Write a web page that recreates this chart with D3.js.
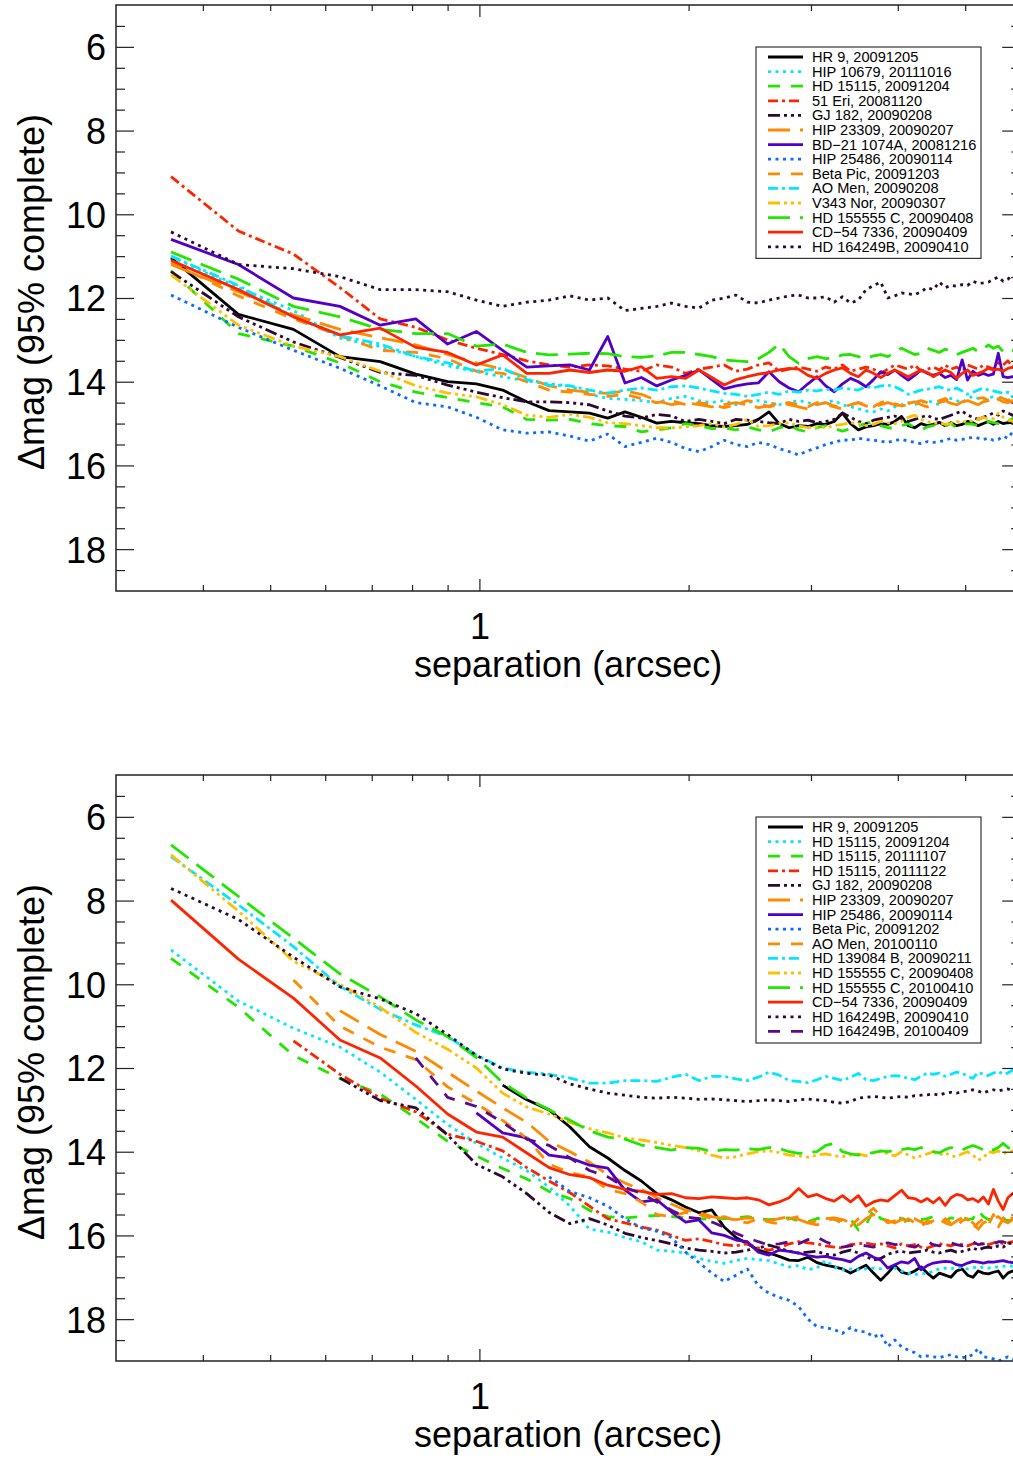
<!DOCTYPE html>
<html>
<head>
<meta charset="utf-8">
<script src="https://cdn.jsdelivr.net/npm/d3@7"></script>
<style>
  body { margin: 0; background: #fff; }
  svg { display: block; }
  text { font-family: "Liberation Sans", Arial, Helvetica, sans-serif; fill: #000; }
</style>
</head>
<body>
<svg id="chart" width="1013" height="1459"></svg>
<script>
// Separation grid (arcsec) shared by every contrast curve
const sep = [
  0.36,0.45,0.54,0.63,0.72,0.81,0.90,0.99,1.08,1.17,
  1.26,1.35,1.44,1.53,1.62,1.71,1.80,1.89,1.98,2.07,
  2.16,2.25,2.34,2.43,2.52,2.61,2.70,2.79,2.88,2.97,
  3.06,3.15,3.24,3.33,3.42,3.51,3.60,3.69,3.78,3.87,
  3.96,4.05,4.14,4.23,4.32,4.41,4.50,4.59,4.68,4.77,
  4.86,4.95,5.04,5.13,5.22,5.31,5.40,5.49,5.58,5.67,
  5.76,5.85,5.94
];

// Axis ticks
const yMajorTicks = [6, 8, 10, 12, 14, 16, 18];
const yMinorTicks = [5.5,6.5,7,7.5,8.5,9,9.5,10.5,11,11.5,12.5,13,13.5,14.5,15,15.5,16.5,17,17.5,18.5];
const xMajorTicks = [1];
const xMinorTicks = [0.4,0.5,0.6,0.7,0.8,0.9,2,3,4,5];

// ---- Upper panel: 95% completeness contrast curves (delta mag) ----
const hr9A = [
  11.04,12.39,12.75,13.40,13.52,13.82,14.00,14.05,14.20,14.48,
  14.69,14.72,14.75,14.87,14.72,14.85,14.99,14.95,14.98,15.00,
  15.05,15.07,15.05,15.02,14.90,14.72,15.00,15.10,15.05,15.07,
  15.00,15.02,14.95,14.75,15.00,15.15,15.08,15.05,15.00,15.02,
  14.95,14.83,15.05,15.10,15.00,15.05,15.02,14.97,15.05,14.98,
  15.05,15.02,14.95,14.98,15.05,15.00,14.95,15.02,14.95,15.00,
  14.98,14.97,15.00];
const hip10679 = [
  11.01,11.75,12.30,12.96,13.16,13.40,13.62,13.76,13.88,13.98,
  14.05,14.10,14.30,14.40,14.42,14.45,14.50,14.40,14.35,14.45,
  14.50,14.45,14.55,14.50,14.45,14.50,14.55,14.50,14.45,14.50,
  14.55,14.50,14.45,14.55,14.60,14.65,14.70,14.72,14.65,14.70,
  14.60,14.55,14.50,14.55,14.50,14.45,14.50,14.55,14.45,14.40,
  14.45,14.50,14.40,14.35,14.40,14.45,14.40,14.35,14.40,14.45,
  14.40,14.35,14.40];
const hd15115A = [
  11.35,12.85,13.15,13.55,14.00,14.25,14.38,14.50,14.60,14.90,
  14.92,14.90,15.00,15.05,15.07,15.20,15.15,15.10,15.00,15.05,
  15.12,15.10,15.15,15.08,15.15,15.20,15.10,15.05,15.15,15.20,
  15.10,15.05,15.12,15.18,15.12,15.05,15.00,14.95,15.05,15.10,
  15.12,15.05,15.00,15.10,15.15,15.08,15.05,15.10,15.05,15.00,
  15.10,15.05,15.00,15.02,15.05,14.95,14.95,14.98,15.00,14.92,
  14.95,14.88,14.95];
const eri51 = [
  9.10,10.40,10.95,11.75,12.50,12.70,13.00,13.20,13.35,13.50,
  13.60,13.65,13.60,13.62,13.70,13.75,13.60,13.65,13.80,13.70,
  13.65,13.60,13.75,13.70,13.60,13.55,13.75,13.70,13.65,13.70,
  13.75,13.65,13.70,13.60,13.75,13.70,13.65,13.70,13.80,13.70,
  13.60,13.65,13.70,13.60,13.75,13.70,13.65,13.72,13.60,13.70,
  13.65,13.75,13.60,13.65,13.70,13.60,13.65,13.70,13.55,13.60,
  13.50,13.65,13.60];
const gj182A = [
  11.37,12.45,13.05,13.42,13.78,13.85,14.08,14.25,14.38,14.48,
  14.48,14.50,14.55,14.70,14.82,14.87,14.78,14.82,14.95,14.90,
  14.95,15.00,14.90,14.92,14.95,14.98,15.00,14.90,14.95,14.92,
  14.98,14.95,14.90,14.75,14.85,14.95,15.00,14.92,14.88,14.85,
  14.82,14.88,14.95,14.90,14.85,14.80,14.88,14.90,14.85,14.80,
  14.75,14.70,14.80,14.85,14.90,14.85,14.80,14.75,14.80,14.70,
  14.75,14.80,14.85];
const hip23309A = [
  11.20,11.85,12.40,12.75,12.95,13.12,13.35,13.55,13.70,13.90,
  14.10,14.20,14.25,14.28,14.22,14.30,14.45,14.55,14.50,14.55,
  14.60,14.55,14.50,14.55,14.62,14.58,14.50,14.55,14.60,14.65,
  14.55,14.50,14.58,14.62,14.55,14.50,14.58,14.60,14.55,14.50,
  14.55,14.60,14.52,14.48,14.55,14.60,14.55,14.50,14.45,14.52,
  14.55,14.50,14.45,14.50,14.55,14.48,14.45,14.50,14.42,14.48,
  14.50,14.45,14.48];
const bd21 = [
  10.60,11.20,12.00,12.20,12.65,12.50,13.10,12.80,13.25,13.65,
  13.62,13.60,13.72,12.92,14.03,13.90,14.10,13.96,13.85,13.72,
  13.95,14.17,14.10,14.05,14.03,13.76,14.00,14.15,14.24,14.05,
  13.88,14.10,14.24,14.05,13.92,14.00,14.12,13.95,13.76,13.83,
  13.72,13.85,13.96,13.85,13.72,13.80,13.85,13.80,13.90,13.85,
  13.95,13.48,13.96,13.75,13.85,13.80,13.85,13.82,13.32,13.88,
  13.90,13.88,13.90];
const hip25486A = [
  11.93,12.70,13.25,13.68,14.10,14.50,14.60,14.85,15.15,15.23,
  15.20,15.30,15.42,15.25,15.55,15.45,15.35,15.45,15.60,15.67,
  15.55,15.40,15.50,15.55,15.45,15.50,15.60,15.67,15.75,15.65,
  15.58,15.50,15.45,15.39,15.40,15.35,15.38,15.40,15.42,15.45,
  15.40,15.38,15.42,15.45,15.48,15.43,15.45,15.43,15.40,15.35,
  15.40,15.38,15.35,15.33,15.35,15.38,15.35,15.40,15.38,15.30,
  15.35,15.20,15.15];
const betaPicA = [
  11.15,11.95,12.50,12.90,13.25,13.30,13.45,13.75,13.80,14.00,
  14.20,14.25,14.30,14.35,14.30,14.40,14.50,14.45,14.55,14.50,
  14.55,14.62,14.55,14.45,14.50,14.60,14.55,14.50,14.55,14.60,
  14.50,14.55,14.60,14.65,14.55,14.50,14.55,14.60,14.50,14.45,
  14.52,14.58,14.55,14.50,14.45,14.50,14.55,14.45,14.40,14.50,
  14.55,14.48,14.45,14.50,14.40,14.38,14.45,14.42,14.35,14.40,
  14.45,14.38,14.42];
const aoMenA = [
  11.00,11.70,12.45,12.90,13.10,13.40,13.55,13.75,13.68,13.95,
  14.08,14.10,14.20,14.27,14.20,14.15,14.20,14.12,14.10,14.15,
  14.22,14.28,14.30,14.35,14.30,14.25,14.30,14.22,14.25,14.20,
  14.22,14.18,14.20,14.15,14.18,14.20,14.12,14.15,14.10,14.08,
  14.12,14.20,14.30,14.25,14.20,14.18,14.15,14.12,14.18,14.20,
  14.15,14.22,14.30,14.25,14.20,14.15,14.20,14.22,14.25,14.28,
  14.25,14.26,14.27];
const v343Nor = [
  11.45,12.65,13.15,13.40,13.75,14.10,14.27,14.36,14.55,14.80,
  14.85,14.78,14.85,14.98,15.00,15.05,15.10,15.10,15.08,15.05,
  15.00,15.08,15.02,14.90,15.07,15.05,15.00,14.98,15.05,15.10,
  15.08,15.10,15.05,15.02,14.98,15.00,15.05,15.02,14.95,14.98,
  15.00,14.95,14.85,14.80,14.90,14.95,15.00,14.98,15.02,15.00,
  14.95,14.98,14.92,14.95,14.90,14.85,14.90,14.88,14.75,14.85,
  14.90,14.95,14.90];
const hd155555A = [
  10.90,11.55,12.20,12.45,12.75,12.85,12.85,13.15,13.10,13.30,
  13.36,13.34,13.32,13.33,13.40,13.42,13.38,13.30,13.30,13.35,
  13.40,13.48,13.50,13.52,13.45,13.30,13.10,13.40,13.56,13.45,
  13.40,13.45,13.43,13.36,13.35,13.40,13.45,13.38,13.35,13.40,
  13.30,13.20,13.28,13.35,13.32,13.20,13.25,13.30,13.22,13.28,
  13.35,13.30,13.25,13.20,13.28,13.22,13.12,13.20,13.15,13.28,
  13.22,13.25,13.30];
const cd54A = [
  11.10,11.80,12.45,12.88,12.72,13.18,13.30,13.60,13.36,13.80,
  13.80,13.72,13.78,13.72,13.75,13.64,13.92,13.88,13.92,13.72,
  13.90,14.08,13.95,13.88,13.82,13.78,13.72,13.68,13.70,13.85,
  13.92,13.80,13.72,13.67,13.80,13.88,13.72,13.80,13.90,13.80,
  13.72,13.80,13.88,13.80,13.72,13.78,13.88,13.80,13.72,13.78,
  13.92,13.80,13.72,13.85,13.80,13.75,13.68,13.72,13.70,13.75,
  13.68,13.65,13.64];
const hd164249A = [
  10.42,11.20,11.30,11.49,11.80,11.80,11.85,12.05,12.20,12.10,
  12.05,11.95,12.05,12.00,12.30,12.25,12.20,12.12,12.20,12.24,
  12.05,12.00,11.93,12.10,12.12,12.05,12.00,11.95,11.93,12.00,
  12.00,11.97,12.10,11.97,12.12,12.05,11.80,11.70,11.62,12.00,
  11.95,11.88,11.90,11.92,11.85,11.75,11.80,11.62,11.75,11.70,
  11.72,11.68,11.70,11.60,11.65,11.64,11.62,11.55,11.50,11.60,
  11.55,11.45,11.50];

// ---- Lower panel ----
const hr9B = [
  null,null,null,null,null,null,null,null,12.41,12.76,
  13.00,13.41,13.88,14.15,14.45,14.70,15.00,15.15,15.32,15.46,
  15.39,15.80,16.05,16.20,16.35,16.42,16.50,16.59,16.60,16.52,
  16.65,16.71,16.75,16.80,16.90,16.80,16.71,16.90,17.07,16.90,
  16.71,16.88,16.92,16.85,16.75,16.90,17.02,16.90,16.95,17.00,
  16.85,16.80,16.95,17.00,16.85,16.90,16.92,16.88,16.85,17.02,
  16.90,16.85,16.90];
const hd15115B = [
  9.18,10.40,11.05,11.50,12.10,12.75,13.35,13.80,14.15,14.45,
  14.85,15.30,15.85,15.92,16.05,16.15,16.35,16.38,16.42,16.55,
  16.62,16.67,16.60,16.55,16.58,16.60,16.68,16.75,16.72,16.82,
  16.78,16.60,16.75,16.82,16.80,16.82,16.80,16.78,16.80,16.76,
  16.78,16.85,16.90,16.94,16.90,16.92,16.85,16.80,16.78,16.80,
  16.76,16.78,16.80,16.76,16.78,16.75,16.78,16.76,16.75,16.74,
  16.72,16.74,16.72];
const hd15115C = [
  9.38,10.55,11.70,12.25,12.62,13.20,13.75,14.10,14.40,14.65,
  14.95,15.12,15.40,15.55,15.58,15.55,15.52,15.55,15.58,15.60,
  15.62,15.60,15.58,15.55,15.60,15.62,15.60,15.58,15.65,15.67,
  15.60,15.55,15.62,15.65,15.60,15.87,15.75,15.39,15.60,15.65,
  15.55,15.60,15.65,15.58,15.62,15.60,15.55,15.62,15.65,15.58,
  15.60,15.55,15.62,15.60,15.40,15.55,15.62,15.60,15.64,15.60,
  15.65,15.62,15.60];
const hd15115D = [
  null,null,11.35,12.15,12.72,13.05,13.58,13.75,13.98,14.38,
  14.70,14.98,15.30,15.60,15.70,15.80,15.87,16.00,16.12,16.08,
  16.15,16.22,16.25,16.20,16.30,16.35,16.30,16.20,16.15,16.18,
  16.20,16.25,16.28,16.30,16.22,16.20,16.18,16.22,16.20,16.25,
  16.30,16.20,16.25,16.22,16.28,16.30,16.25,16.20,16.22,16.25,
  16.20,16.22,16.25,16.20,16.18,16.20,16.22,16.18,16.15,16.20,
  16.18,16.15,16.20];
const gj182B = [
  null,null,null,12.24,12.78,12.95,13.60,14.30,14.60,15.00,
  15.45,15.72,15.60,15.75,15.95,16.05,16.12,16.20,16.30,16.35,
  16.38,16.42,16.40,16.35,16.30,16.23,16.30,16.38,16.42,16.40,
  16.38,16.45,16.47,16.40,16.35,16.42,16.50,16.59,16.55,16.45,
  16.40,16.38,16.42,16.40,16.38,16.35,16.40,16.42,16.38,16.35,
  16.40,16.38,16.35,16.30,16.35,16.30,16.28,16.30,16.25,16.28,
  16.20,16.18,16.20];
const hip23309B = [
  null,null,null,10.63,11.20,11.60,12.10,12.55,12.95,13.30,
  13.75,14.00,14.25,14.55,14.75,14.90,15.10,15.25,15.40,15.45,
  15.55,15.60,15.62,15.58,15.60,15.65,15.60,15.55,15.62,15.70,
  15.65,15.60,15.58,15.62,15.70,15.75,15.60,15.50,15.58,15.65,
  15.70,15.62,15.55,15.60,15.68,15.72,15.65,15.60,15.70,15.75,
  15.65,15.58,15.62,15.70,15.85,15.70,15.65,15.60,15.55,15.65,
  15.70,15.62,15.60];
const hip25486B = [
  null,null,null,null,null,null,null,13.07,13.55,13.67,
  14.08,14.15,14.32,14.39,14.92,15.20,15.15,15.44,15.68,15.63,
  15.94,16.00,16.11,16.15,16.40,16.47,16.35,16.38,16.42,16.48,
  16.52,16.50,16.55,16.58,16.63,16.50,16.42,16.52,16.59,16.78,
  16.70,16.63,16.66,16.55,16.82,16.72,16.66,16.64,16.62,16.63,
  16.70,16.72,16.66,16.62,16.64,16.66,16.63,16.64,16.62,16.60,
  16.63,16.65,16.60];
const betaPicB = [
  null,null,null,null,null,null,null,null,null,null,
  14.60,14.95,15.10,15.30,15.60,15.82,15.90,16.05,16.40,16.65,
  16.90,17.10,16.95,16.80,17.20,17.38,17.48,17.55,17.70,18.00,
  18.18,18.20,18.25,18.34,18.20,18.30,18.30,18.43,18.35,18.66,
  18.50,18.66,18.74,18.80,18.90,18.88,18.90,18.92,18.88,18.85,
  18.90,18.92,18.90,18.85,18.70,18.90,18.92,18.95,19.00,18.95,
  18.90,18.95,18.98];
const aoMenB = [
  null,null,9.90,11.00,11.50,11.80,12.45,12.85,13.25,13.68,
  14.30,14.50,14.60,14.90,15.00,15.20,15.50,15.55,15.45,15.50,
  15.60,15.55,15.65,15.70,15.60,15.68,15.72,15.60,15.55,15.70,
  15.75,15.65,15.60,15.72,15.78,15.60,15.50,15.35,15.55,15.70,
  15.65,15.75,15.60,15.70,15.80,15.65,15.70,15.75,15.60,15.70,
  15.78,15.65,15.60,15.85,15.70,15.60,15.75,15.50,15.80,15.60,
  15.45,15.60,15.55];
const hd139084 = [
  6.95,8.10,9.10,10.05,10.60,10.97,11.25,11.69,12.00,12.10,
  12.15,12.24,12.36,12.36,12.30,12.30,12.32,12.22,12.15,12.30,
  12.20,12.20,12.26,12.30,12.22,12.10,12.17,12.30,12.32,12.35,
  12.28,12.20,12.25,12.30,12.22,12.13,12.28,12.30,12.25,12.20,
  12.18,12.20,12.25,12.28,12.20,12.12,12.15,12.12,12.20,12.15,
  12.10,12.12,12.20,12.25,12.10,12.15,12.18,12.12,12.08,12.15,
  12.12,12.05,12.10];
const hd155555B = [
  6.91,8.25,9.45,10.00,10.55,11.15,11.55,12.00,12.60,12.93,
  13.10,13.30,13.45,13.55,13.67,13.72,13.78,13.85,13.90,13.98,
  14.08,14.15,14.12,14.05,14.00,13.98,14.02,14.08,14.10,14.13,
  14.08,14.05,14.10,14.12,14.08,14.05,14.10,14.02,14.00,14.05,
  14.10,14.00,14.08,14.15,14.10,14.05,14.00,14.08,14.02,14.10,
  14.12,14.05,14.00,14.08,14.20,14.15,14.00,14.02,13.98,14.05,
  14.00,13.98,14.00];
const hd155555C = [
  6.67,7.90,8.90,9.75,10.30,10.85,11.25,11.75,12.35,12.72,
  13.00,13.25,13.50,13.65,13.70,13.84,13.90,13.96,13.90,13.92,
  14.00,13.95,13.96,13.93,13.95,13.90,13.92,14.00,14.04,14.02,
  14.00,13.85,13.80,14.00,14.05,14.08,14.05,14.02,13.98,14.00,
  13.96,13.95,13.92,13.95,13.90,13.95,14.00,14.03,13.95,13.90,
  13.92,13.96,13.90,13.85,13.90,13.95,13.90,13.96,13.90,13.80,
  13.90,13.95,13.90];
const cd54B = [
  7.99,9.40,10.33,11.33,11.76,12.43,13.10,13.53,13.65,14.03,
  14.38,14.55,14.62,14.80,14.90,14.95,15.02,15.00,15.10,15.12,
  15.08,15.10,15.12,15.10,15.15,15.27,15.20,15.10,14.88,15.08,
  15.02,15.12,15.18,15.05,15.20,15.05,15.30,15.20,15.15,15.18,
  15.05,14.92,15.10,15.12,15.20,15.12,15.22,15.10,15.28,15.10,
  15.02,15.05,15.15,15.12,15.20,15.08,15.25,14.90,15.18,15.38,
  15.10,15.00,15.10];
const hd164249B = [
  7.71,8.45,9.35,10.06,10.35,10.70,11.20,11.70,12.02,12.13,
  12.17,12.38,12.50,12.60,12.65,12.70,12.72,12.70,12.72,12.75,
  12.74,12.76,12.78,12.80,12.78,12.76,12.78,12.80,12.76,12.74,
  12.76,12.78,12.82,12.84,12.80,12.72,12.70,12.68,12.70,12.72,
  12.70,12.68,12.70,12.66,12.65,12.64,12.62,12.65,12.60,12.58,
  12.60,12.57,12.55,12.52,12.55,12.60,12.55,12.52,12.55,12.52,
  12.50,12.55,12.52];
const hd164249C = [
  null,null,null,null,null,11.76,12.70,12.92,13.30,13.70,
  13.85,14.15,14.45,14.60,14.85,15.00,15.20,15.40,15.56,15.60,
  15.68,15.80,15.95,16.06,16.15,16.23,16.20,16.15,16.20,16.10,
  16.04,16.15,16.23,16.28,16.25,16.22,16.25,16.28,16.20,16.18,
  16.22,16.20,16.25,16.28,16.20,16.15,16.22,16.25,16.20,16.18,
  16.22,16.25,16.20,16.15,16.22,16.20,16.18,16.22,16.15,16.15,
  16.20,16.25,16.20];

// Line styles (dash patterns) and colours
const DASH = {
  solid: null,
  dot: "3,4.5",
  dash: "12,11",
  dashdot: "10,4,3,4",
  dash3dot: "12,4,3,4,3,4,3,4",
  longdash: "22,10"
};
const C = {
  black: "#000000", cyan: "#00e8ff", green: "#22e600", red: "#ff2400",
  dark: "#2c0a30", orange: "#ff8a00", violet: "#5200c8", blue: "#0a6cff",
  gold: "#ffbf00", purple: "#5a0a8a"
};
const LINE_W = 2.8;

const upperSeries = [
  { name: "HR 9, 20091205",          values: hr9A,      color: C.black,  dash: DASH.solid },
  { name: "HIP 10679, 20111016",     values: hip10679,  color: C.cyan,   dash: DASH.dot },
  { name: "HD 15115, 20091204",      values: hd15115A,  color: C.green,  dash: DASH.dash },
  { name: "51 Eri, 20081120",        values: eri51,     color: C.red,    dash: DASH.dashdot },
  { name: "GJ 182, 20090208",        values: gj182A,    color: C.dark,   dash: DASH.dash3dot },
  { name: "HIP 23309, 20090207",     values: hip23309A, color: C.orange, dash: DASH.longdash },
  { name: "BD\u221221 1074A, 20081216", values: bd21,   color: C.violet, dash: DASH.solid },
  { name: "HIP 25486, 20090114",     values: hip25486A, color: C.blue,   dash: DASH.dot },
  { name: "Beta Pic, 20091203",      values: betaPicA,  color: C.orange, dash: DASH.dash },
  { name: "AO Men, 20090208",        values: aoMenA,    color: C.cyan,   dash: DASH.dashdot },
  { name: "V343 Nor, 20090307",      values: v343Nor,   color: C.gold,   dash: DASH.dash3dot },
  { name: "HD 155555 C, 20090408",   values: hd155555A, color: C.green,  dash: DASH.longdash },
  { name: "CD\u221254 7336, 20090409", values: cd54A,   color: C.red,    dash: DASH.solid },
  { name: "HD 164249B, 20090410",    values: hd164249A, color: C.dark,   dash: DASH.dot }
];

const lowerSeries = [
  { name: "HR 9, 20091205",          values: hr9B,      color: C.black,  dash: DASH.solid },
  { name: "HD 15115, 20091204",      values: hd15115B,  color: C.cyan,   dash: DASH.dot },
  { name: "HD 15115, 20111107",      values: hd15115C,  color: C.green,  dash: DASH.dash },
  { name: "HD 15115, 20111122",      values: hd15115D,  color: C.red,    dash: DASH.dashdot },
  { name: "GJ 182, 20090208",        values: gj182B,    color: C.dark,   dash: DASH.dash3dot },
  { name: "HIP 23309, 20090207",     values: hip23309B, color: C.orange, dash: DASH.longdash },
  { name: "HIP 25486, 20090114",     values: hip25486B, color: C.violet, dash: DASH.solid },
  { name: "Beta Pic, 20091202",      values: betaPicB,  color: C.blue,   dash: DASH.dot },
  { name: "AO Men, 20100110",        values: aoMenB,    color: C.orange, dash: DASH.dash },
  { name: "HD 139084 B, 20090211",   values: hd139084,  color: C.cyan,   dash: DASH.dashdot },
  { name: "HD 155555 C, 20090408",   values: hd155555B, color: C.gold,   dash: DASH.dash3dot },
  { name: "HD 155555 C, 20100410",   values: hd155555C, color: C.green,  dash: DASH.longdash },
  { name: "CD\u221254 7336, 20090409", values: cd54B,   color: C.red,    dash: DASH.solid },
  { name: "HD 164249B, 20090410",    values: hd164249B, color: C.dark,   dash: DASH.dot },
  { name: "HD 164249B, 20100409",    values: hd164249C, color: C.purple, dash: DASH.dash }
];

const svg = d3.select("#chart");
const left = 116, right = 1020.2, plotH = 586;
const x = d3.scaleLog().domain([0.3, 6]).range([left, right]);

function drawPanel(top, series, idx) {
  const y = d3.scaleLinear().domain([5, 19]).range([top, top + plotH]);
  const g = svg.append("g");

  const clipId = "clip" + idx;
  svg.append("clipPath").attr("id", clipId)
    .append("rect").attr("x", left).attr("y", top)
    .attr("width", right - left).attr("height", plotH);

  // curves
  const line = d3.line()
    .defined(d => d[1] != null)
    .x(d => x(d[0]))
    .y(d => y(d[1]));
  const curves = g.append("g").attr("clip-path", `url(#${clipId})`);
  series.forEach(s => {
    curves.append("path")
      .datum(sep.map((v, i) => [v, s.values[i]]))
      .attr("d", line)
      .attr("fill", "none")
      .attr("stroke", s.color)
      .attr("stroke-width", LINE_W)
      .attr("stroke-linejoin", "round")
      .attr("stroke-dasharray", s.dash);
  });

  // frame
  g.append("rect").attr("x", left).attr("y", top)
    .attr("width", right - left).attr("height", plotH)
    .attr("fill", "none").attr("stroke", "#222").attr("stroke-width", 1.5);

  const styleAxis = sel => {
    sel.select(".domain").remove();
    sel.selectAll(".tick line").attr("stroke", "#222").attr("stroke-width", 1.2);
  };

  // y axes (left with labels, right ticks only)
  g.append("g").attr("transform", `translate(${left},0)`)
    .call(d3.axisLeft(y).tickValues(yMajorTicks).tickSize(-18).tickPadding(10).tickFormat(d3.format("d")))
    .call(styleAxis)
    .call(a => a.selectAll("text").attr("font-size", 36).attr("font-family", "Liberation Sans, Arial, sans-serif").attr("fill", "#000").attr("dy", "0.36em"));
  g.append("g").attr("transform", `translate(${left},0)`)
    .call(d3.axisLeft(y).tickValues(yMinorTicks).tickSize(-9).tickFormat(""))
    .call(styleAxis);
  g.append("g").attr("transform", `translate(${right},0)`)
    .call(d3.axisRight(y).tickValues(yMajorTicks).tickSize(-18).tickFormat(""))
    .call(styleAxis);
  g.append("g").attr("transform", `translate(${right},0)`)
    .call(d3.axisRight(y).tickValues(yMinorTicks).tickSize(-9).tickFormat(""))
    .call(styleAxis);

  // x axes (bottom with labels, top ticks only)
  const bottom = top + plotH;
  g.append("g").attr("transform", `translate(0,${bottom})`)
    .call(d3.axisBottom(x).tickValues(xMajorTicks).tickSize(-12).tickPadding(22).tickFormat(d3.format("d")))
    .call(styleAxis)
    .call(a => a.selectAll("text").attr("font-size", 36).attr("font-family", "Liberation Sans, Arial, sans-serif").attr("fill", "#000"));
  g.append("g").attr("transform", `translate(0,${bottom})`)
    .call(d3.axisBottom(x).tickValues(xMinorTicks).tickSize(-6).tickFormat(""))
    .call(styleAxis);
  g.append("g").attr("transform", `translate(0,${top})`)
    .call(d3.axisTop(x).tickValues(xMajorTicks).tickSize(-12).tickFormat(""))
    .call(styleAxis);
  g.append("g").attr("transform", `translate(0,${top})`)
    .call(d3.axisTop(x).tickValues(xMinorTicks).tickSize(-6).tickFormat(""))
    .call(styleAxis);

  // axis titles
  g.append("text")
    .attr("x", (left + right) / 2).attr("y", bottom + 86)
    .attr("text-anchor", "middle").attr("font-size", 36)
    .text("separation (arcsec)");
  g.append("text")
    .attr("transform", `translate(44,${top + plotH / 2 - 6}) rotate(-90)`)
    .attr("text-anchor", "middle").attr("font-size", 36)
    .text("\u0394mag (95% complete)");

  // legend
  const lx = 756, ly = top + 42, rowH = 14.6;
  const lg = g.append("g");
  lg.append("rect").attr("x", lx).attr("y", ly)
    .attr("width", 225).attr("height", series.length * rowH + 7)
    .attr("fill", "#fff").attr("stroke", "#333").attr("stroke-width", 1.2);
  series.forEach((s, i) => {
    const cy = ly + 10 + i * rowH;
    lg.append("line")
      .attr("x1", lx + 12).attr("x2", lx + 47).attr("y1", cy).attr("y2", cy)
      .attr("stroke", s.color).attr("stroke-width", LINE_W)
      .attr("stroke-dasharray", s.dash);
    lg.append("text")
      .attr("x", lx + 56).attr("y", cy + 5)
      .attr("font-size", 14.6)
      .text(s.name);
  });
}

drawPanel(5, upperSeries, 0);
drawPanel(775, lowerSeries, 1);
</script>
</body>
</html>
